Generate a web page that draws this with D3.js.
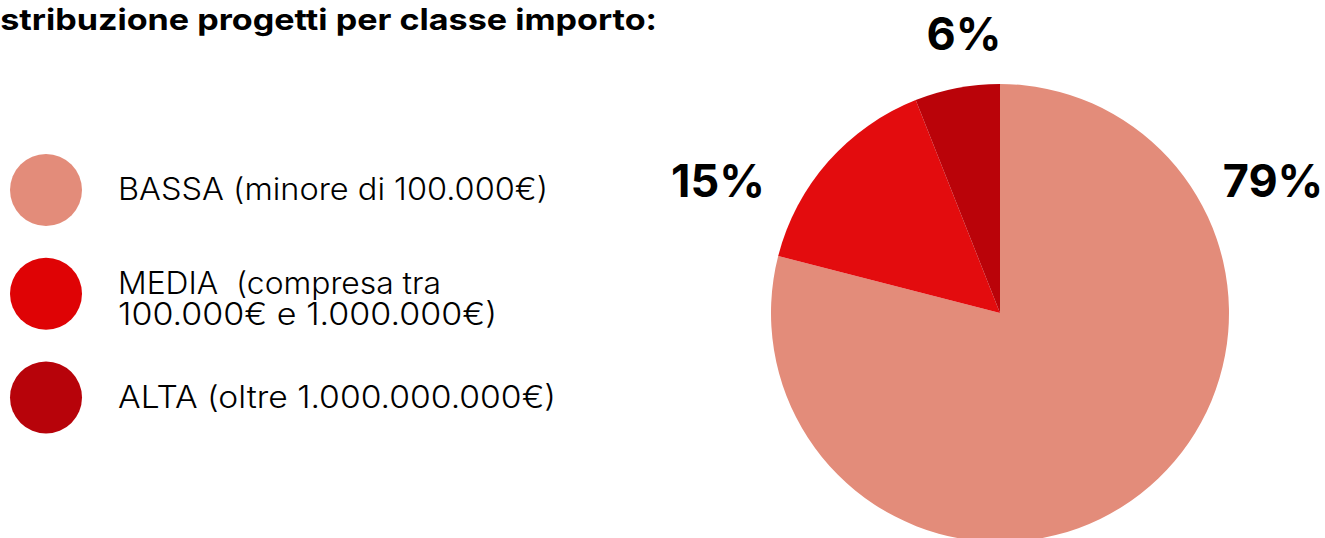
<!DOCTYPE html>
<html lang="it">
<head>
<meta charset="UTF-8">
<title>Distribuzione progetti per classe importo</title>
<script src="https://d3js.org/d3.v7.min.js"></script>
<style>
    body { margin: 0; background: white; font-family: Inter, "Noto Sans", sans-serif; }
    svg { display: block; }
    .title { font-weight: 700; font-size: 29.5px; fill: #000; }
    .legend-text { font-size: 30.5px; font-weight: 300; fill: #000; white-space: pre; }
    .pct { font-weight: 700; font-size: 45px; fill: #000; text-anchor: middle; }
</style>
</head>
<body>
<svg width="1325" height="538"></svg>
<script>
    // Data
    const categories = ["BASSA", "MEDIA", "ALTA"];
    const legendLabels = [
        ["BASSA (minore di 100.000€)"],
        ["MEDIA  (compresa tra", "100.000€ e 1.000.000€)"],
        ["ALTA (oltre 1.000.000.000€)"]
    ];
    const values = [79, 15, 6];
    const colors = ["#e38c7a", "#e30c0e", "#ba0309"];
    const legendColors = ["#e38c7a", "#df0305", "#b7030a"];

    // layout (widths of each legend line as on the slide)
    const legendWidths = [[430], [323, 379], [438]];

    const svg = d3.select("svg");

    // Title: the slide frame cuts the first letters off
    const tmp = svg.append("text").attr("class", "title").text("Di");
    const diW = tmp.node().getComputedTextLength() * 1.15;
    tmp.remove();
    svg.append("text")
        .attr("class", "title")
        .attr("x", -diW)
        .attr("y", 29.5)
        .attr("textLength", 657 + diW)
        .attr("lengthAdjust", "spacingAndGlyphs")
        .text("Distribuzione progetti per classe importo:");

    // Pie
    const cx = 1000, cy = 313, r = 229;
    const pie = d3.pie().sort(null).value(d => d)(values);
    const arc = d3.arc().innerRadius(0).outerRadius(r);

    const g = svg.append("g").attr("transform", `translate(${cx},${cy})`);
    g.selectAll("path")
        .data(pie)
        .enter().append("path")
        .attr("d", arc)
        .attr("fill", (d, i) => colors[i]);

    // Percent labels, offsets from pie centre
    const labelOffset = [[273, -116], [-282, -116], [-36, -263]];
    g.selectAll("text.pct")
        .data(pie)
        .enter().append("text")
        .attr("class", "pct")
        .attr("x", (d, i) => labelOffset[i][0])
        .attr("y", (d, i) => labelOffset[i][1])
        .text(d => d.data + "%");

    // Legend
    const legendY = d3.scalePoint()
        .domain(categories)
        .range([190, 397.5]);

    const item = svg.append("g").selectAll("g")
        .data(categories)
        .enter().append("g")
        .attr("transform", d => `translate(0,${legendY(d)})`);

    item.append("circle")
        .attr("cx", 46)
        .attr("cy", 0)
        .attr("r", 36)
        .attr("fill", (d, i) => legendColors[i]);

    item.each(function (d, i) {
        const lines = legendLabels[i];
        const t = d3.select(this).append("text")
            .attr("class", "legend-text")
            .attr("y", lines.length === 1 ? 10 : 0.5);
        lines.forEach((l, j) => {
            t.append("tspan")
                .attr("x", 118)
                .attr("dy", j === 0 ? 0 : 31)
                .attr("textLength", legendWidths[i][j])
                .attr("lengthAdjust", "spacingAndGlyphs")
                .text(l);
        });
    });
</script>
</body>
</html>
